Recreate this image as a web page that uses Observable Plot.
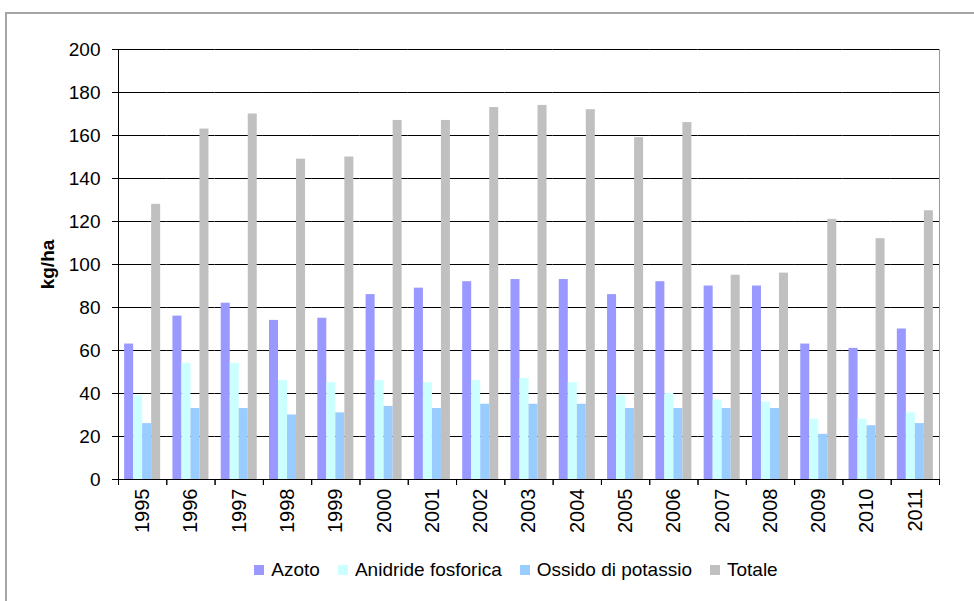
<!DOCTYPE html>
<html>
<head>
<meta charset="utf-8">
<script src="https://cdn.jsdelivr.net/npm/d3@7"></script>
<script src="https://cdn.jsdelivr.net/npm/@observablehq/plot@0.6"></script>
<style>
  html, body { margin: 0; padding: 0; background: #fff; }
  body { width: 974px; height: 601px; position: relative; overflow: hidden; font-family: "Liberation Sans", Arial, sans-serif; }
  #frame { position: absolute; left: 5px; top: 12px; width: 1100px; height: 800px; border: 2px solid #a6a6a6; box-sizing: border-box; }
  #chart { position: absolute; left: 0; top: 0; }
  #chart [aria-label="y-axis label"] text, #chart g[aria-label="y-axis label"] { font-weight: bold; }
  #legend { position: absolute; left: 0; top: 559px; width: 1032px; display: flex; justify-content: center; align-items: center; gap: 18px; font-size: 19px; line-height: 22px; color: #000; }
  #legend .item { display: flex; align-items: center; gap: 7px; white-space: nowrap; }
  #legend .sw { width: 10px; height: 10px; display: inline-block; }
</style>
</head>
<body>
<div id="frame"></div>
<div id="chart"></div>
<div id="legend"></div>
<script>
const years = ["1995","1996","1997","1998","1999","2000","2001","2002","2003","2004","2005","2006","2007","2008","2009","2010","2011"];
const azoto    = [63, 76, 82, 74, 75, 86, 89, 92, 93, 93, 86, 92, 90, 90, 63, 61, 70];
const anidride = [39, 54, 54, 46, 45, 46, 45, 46, 47, 45, 39, 40, 37, 36, 28, 28, 31];
const ossido   = [26, 33, 33, 30, 31, 34, 33, 35, 35, 35, 33, 33, 33, 33, 21, 25, 26];
const totale   = [128, 163, 170, 149, 150, 167, 167, 173, 174, 172, 159, 166, 95, 96, 121, 112, 125];
const seriesNames = ["Azoto", "Anidride fosforica", "Ossido di potassio", "Totale"];
const seriesColors = ["#9999ff", "#ccffff", "#99ccff", "#c0c0c0"];
const yTicks = [0, 20, 40, 60, 80, 100, 120, 140, 160, 180, 200];
const yLabel = "kg/ha";

const seriesValues = [azoto, anidride, ossido, totale];
const data = years.flatMap((year, i) => seriesNames.map((series, j) => ({year, series, value: seriesValues[j][i]})));

const W = 974, H = 545, mL = 118, mR = 35, mT = 49, mB = 66;
const step = (W - mL - mR) / years.length;

const chart = Plot.plot({
  width: W, height: H,
  marginLeft: mL, marginRight: mR, marginTop: mT, marginBottom: mB,
  style: {fontFamily: "'Liberation Sans', Arial, sans-serif", fontSize: "19px", color: "#000", background: "transparent"},
  fx: {domain: years, padding: 0, round: false, label: null},
  x: {domain: seriesNames, paddingInner: 0, paddingOuter: 0.68, round: false, axis: null},
  y: {domain: [0, 200], label: null},
  color: {domain: seriesNames, range: seriesColors},
  marks: [
    Plot.gridY(yTicks, {stroke: "#000", strokeOpacity: 1}),
    Plot.barY(data, {fx: "year", x: "series", y: "value", fill: "series"}),
    Plot.ruleY([0], {stroke: "#000"}),
    Plot.frame({anchor: "left", facetAnchor: "left", stroke: "#000"}),
    Plot.frame({anchor: "right", facetAnchor: "right", stroke: "#999"}),
    Plot.axisY(yTicks, {tickSize: 6, tickPadding: 12, fontSize: 19, label: yLabel, labelAnchor: "center", labelArrow: "none", labelOffset: 78}),
    Plot.axisFx({anchor: "bottom", tickSize: 0, tickPadding: 9, tickRotate: -90, fontSize: 20, label: null}),
    Plot.axisFx({anchor: "bottom", tickSize: 6, tickFormat: () => "", dx: -step / 2, label: null}),
    Plot.axisFx([years[years.length - 1]], {anchor: "bottom", tickSize: 6, tickFormat: () => "", dx: step / 2, label: null})
  ]
});
document.getElementById("chart").appendChild(chart);

const legend = document.getElementById("legend");
seriesNames.forEach((name, i) => {
  const item = document.createElement("div");
  item.className = "item";
  const sw = document.createElement("span");
  sw.className = "sw";
  sw.style.background = seriesColors[i];
  const t = document.createElement("span");
  t.textContent = name;
  item.appendChild(sw);
  item.appendChild(t);
  legend.appendChild(item);
});
</script>
</body>
</html>
